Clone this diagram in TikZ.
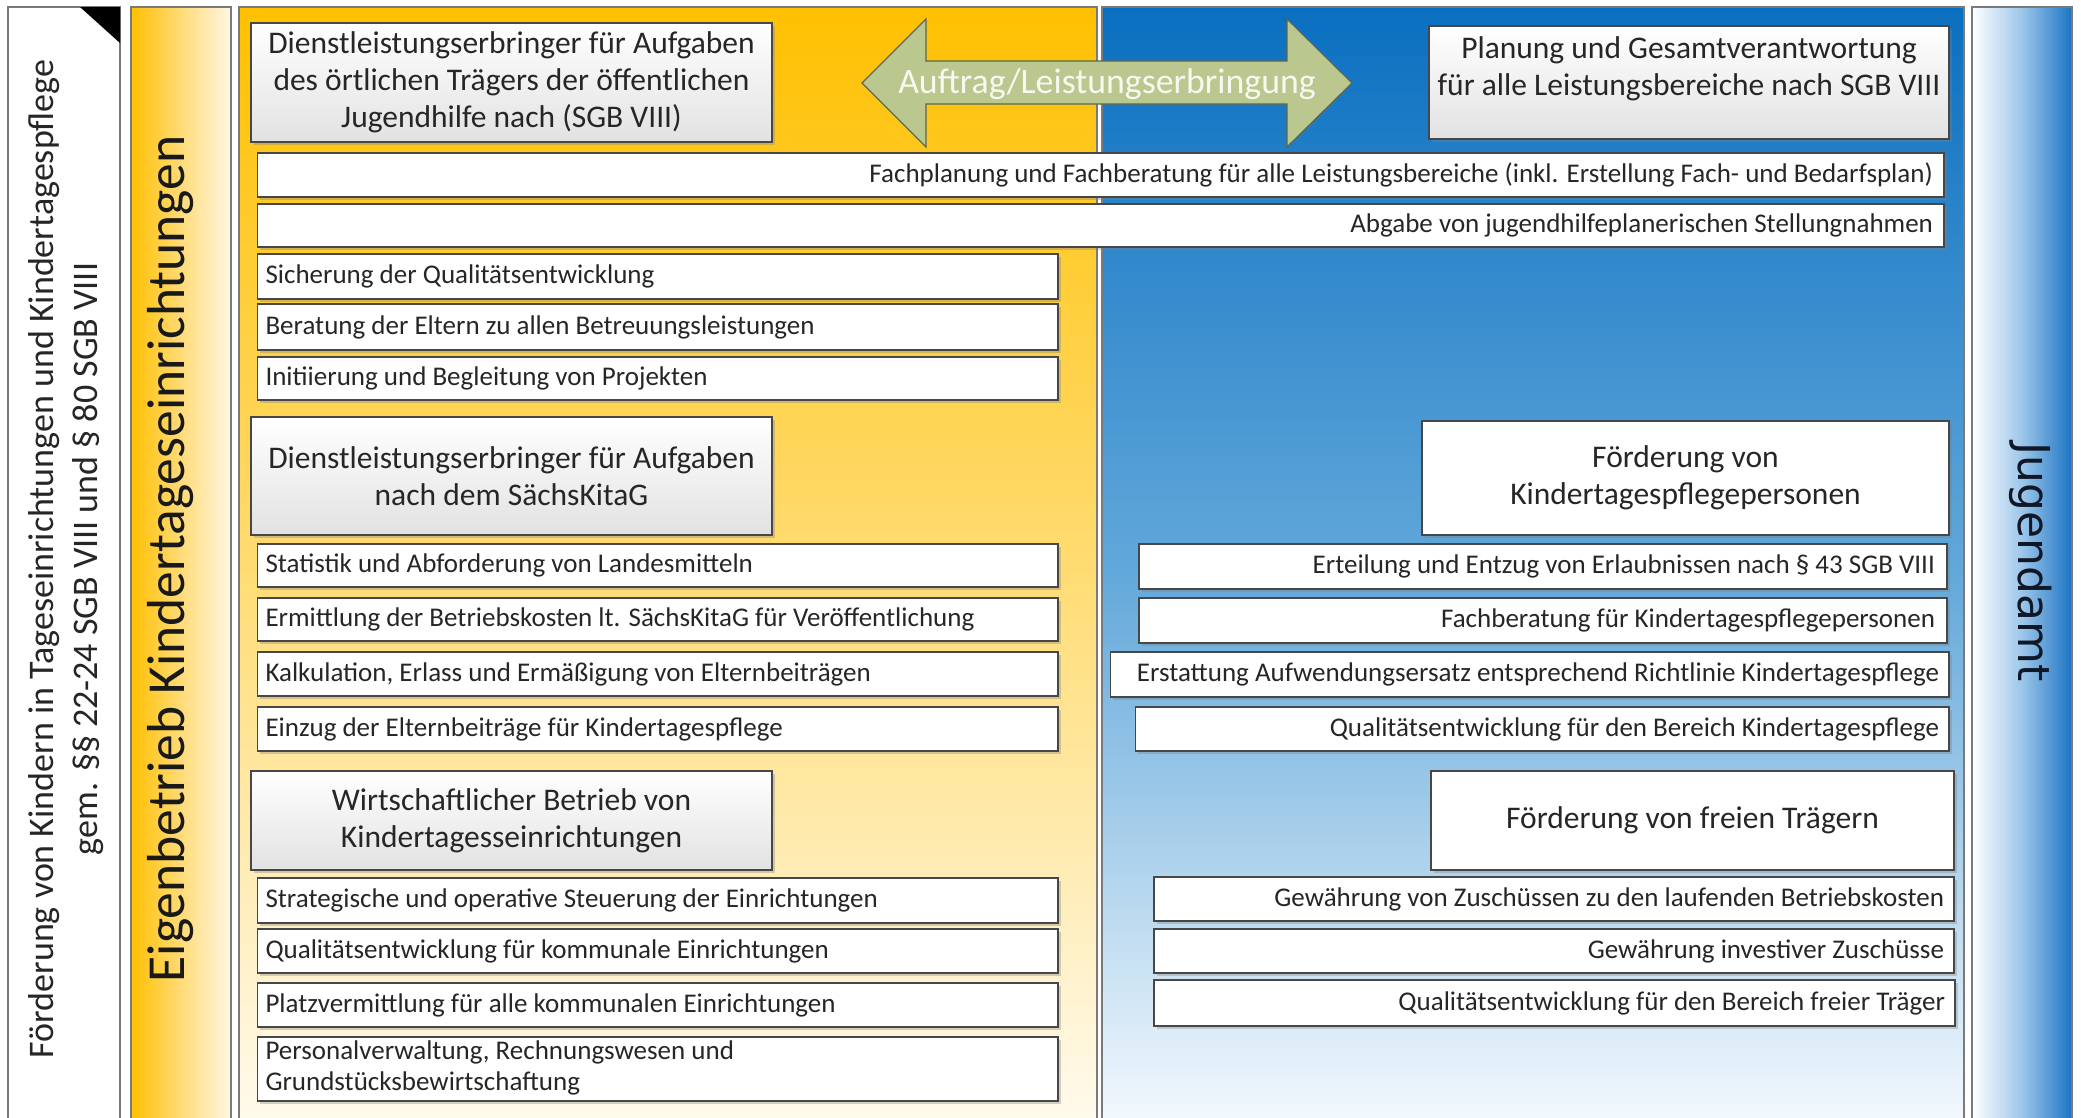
\documentclass[tikz,border=0pt]{standalone}
\usepackage{fontspec}
\setmainfont{Carlito}
\newfontfamily\jfont{DejaVu Sans}
\usetikzlibrary{shadows}
\definecolor{bordc}{HTML}{474747}
\definecolor{panelc}{HTML}{7A7A7A}
\definecolor{txtc}{HTML}{262626}
\definecolor{yelA}{HTML}{FFC000}
\definecolor{yelB}{HTML}{FFDC74}
\definecolor{yelC}{HTML}{FFFBF1}
\definecolor{ybarB}{HTML}{FFDB78}
\definecolor{ybarC}{HTML}{FFF7E4}
\definecolor{bluA}{HTML}{0A6FC0}
\definecolor{bluB}{HTML}{62A8DA}
\definecolor{bluC}{HTML}{F8FBFE}
\definecolor{barblue}{HTML}{1C74C3}
\definecolor{barmid}{HTML}{9CC6EA}
\definecolor{arrowc}{HTML}{BAC78F}
\definecolor{arrowb}{HTML}{5C6650}
\definecolor{arrowt}{HTML}{F7F8F0}
\definecolor{hdrbot}{HTML}{E2E2E2}
\definecolor{jtxt}{HTML}{101828}
\newcommand\fitem{\fontsize{27}{31}\selectfont}
\newcommand\fhead{\fontsize{31.5}{37}\selectfont}
\newcommand\fleft{\fontsize{36}{42}\selectfont}
\newcommand\feigen{\fontsize{53.5}{60}\selectfont}
\newcommand\farrow{\fontsize{35.8}{42}\selectfont}
\newcommand\fjug{\fontsize{44}{52}\selectfont}
\tikzset{
  boxshadow/.style={drop shadow={shadow xshift=2.5pt, shadow yshift=-2.5pt, opacity=0.35}},
  itembox/.style={draw=bordc, line width=1.6pt, fill=white, text=txtc, font=\fitem, inner ysep=0pt, boxshadow},
  headbox/.style={draw=bordc, line width=1.6pt, top color=white, bottom color=hdrbot, text=txtc, font=\fhead, align=center, inner sep=0pt, boxshadow},
  whitehead/.style={draw=bordc, line width=1.6pt, fill=white, text=txtc, font=\fhead, align=center, inner sep=0pt, boxshadow},
  panel/.style={draw=panelc, line width=1.5pt},
  sidetext/.style={anchor=base, text=txtc}
}
\newcommand\bx[9]{%
  \pgfmathsetmacro\bxw{#4-#2}%
  \pgfmathsetmacro\bxh{#5-#3}%
  \pgfmathsetmacro\bxtw{#4-#2-2*#7}%
  \node[#6, inner xsep=#7pt, minimum width=\bxw pt, minimum height=\bxh pt] (#1) at ({(#2+#4)/2},{(#3+#5)/2}) {\makebox[\bxtw pt][#8]{#9}};}
\newcommand\hb[6]{%
  \pgfmathsetmacro\bxw{#4-#2}%
  \pgfmathsetmacro\bxh{#5-#3}%
  \node[#6, minimum width=\bxw pt, minimum height=\bxh pt] (#1) at ({(#2+#4)/2},{(#3+#5)/2})}
\begin{document}
\begin{tikzpicture}[x=1pt,y=-1pt]
\useasboundingbox (0,0) rectangle (2081,1117);
\clip (0,0) rectangle (2081,1117);
\fill[white] (0,0) rectangle (2081,1117);
% left white column
\draw[panel, fill=white] (8,7) rectangle (120,1140);
\fill[black] (80,7) -- (120,7) -- (120,43) -- cycle;
\node[sidetext, rotate=90, font=\fleft] (lt1) at (53,559) {Förderung von Kindern in Tageseinrichtungen und Kindertagespflege};
\node[sidetext, rotate=90, font=\fleft] (lt2) at (97,559) {gem. §§ 22-24 SGB VIII und § 80 SGB VIII};
% yellow side bar
\draw[panel, left color=yelA, right color=ybarC, middle color=ybarB] (131,7) rectangle (231,1140);
\node[sidetext, rotate=90, font=\feigen, text=black!90] (eigen) at (184,559) {Eigenbetrieb Kindertageseinrichtungen};
% main panels
\draw[panel, top color=yelA, bottom color=yelC, middle color=yelB] (239,7) rectangle (1097,1140);
\draw[panel, top color=bluA, bottom color=bluC, middle color=bluB] (1102,7) rectangle (1964,1140);
% right side bar
\draw[panel, left color=white, right color=barblue, middle color=barmid] (1972,7) rectangle (2072,1140);
\node[anchor=base, rotate=-90, font=\fjug\jfont, text=jtxt] (jug) at (2018,562) {Jugendamt};
% arrow
\draw[fill=arrowc, draw=arrowb, line width=1.2pt] (862,83) -- (926,19) -- (926,61) -- (1287,61) -- (1287,19) -- (1352,83) -- (1287,147) -- (1287,104) -- (926,104) -- (926,147) -- cycle;
\node[anchor=base, font=\farrow, text=arrowt] (arrowtext) at (1107,93) {Auftrag/Leistungserbringung};
% header boxes left
\hb{h1}{251}{23}{772}{142}{headbox}{Dienstleistungserbringer für Aufgaben\\des örtlichen Trägers der öffentlichen\\Jugendhilfe nach (SGB VIII)};
\hb{h2}{251}{417}{772}{535}{headbox}{Dienstleistungserbringer für Aufgaben\\nach dem SächsKitaG};
\hb{h3}{251}{771}{772}{870}{headbox}{Wirtschaftlicher Betrieb von\\Kindertagesseinrichtungen};
% header boxes right
\hb{h4}{1429}{26}{1949}{139}{headbox}{Planung und Gesamtverantwortung\\für alle Leistungsbereiche nach SGB VIII\\[-4pt]\mbox{}};
\hb{h5}{1422}{421}{1949}{535}{whitehead}{Förderung von\\Kindertagespflegepersonen};
\hb{h6}{1431}{771}{1954}{870}{whitehead}{Förderung von freien Trägern};
% wide boxes
\bx{w1}{257.5}{153}{1944}{197}{itembox}{11}{r}{Fachplanung und Fachberatung für alle Leistungsbereiche (inkl. Erstellung Fach- und Bedarfsplan)}
\bx{w2}{257.5}{204}{1944}{247}{itembox}{11}{r}{Abgabe von jugendhilfeplanerischen Stellungnahmen}
% left items
\bx{l1}{257.5}{254}{1058}{299}{itembox}{8}{l}{Sicherung der Qualitätsentwicklung}
\bx{l2}{257.5}{304}{1058}{350}{itembox}{8}{l}{Beratung der Eltern zu allen Betreuungsleistungen}
\bx{l3}{257.5}{357}{1058}{400}{itembox}{8}{l}{Initiierung und Begleitung von Projekten}
\bx{l4}{257.5}{544}{1058}{587}{itembox}{8}{l}{Statistik und Abforderung von Landesmitteln}
\bx{l5}{257.5}{598}{1058}{641}{itembox}{8}{l}{Ermittlung der Betriebskosten lt. SächsKitaG für Veröffentlichung}
\bx{l6}{257.5}{652}{1058}{696}{itembox}{8}{l}{Kalkulation, Erlass und Ermäßigung von Elternbeiträgen}
\bx{l7}{257.5}{707}{1058}{751}{itembox}{8}{l}{Einzug der Elternbeiträge für Kindertagespflege}
\bx{l8}{257.5}{878}{1058}{923}{itembox}{8}{l}{Strategische und operative Steuerung der Einrichtungen}
\bx{l9}{257.5}{929}{1058}{973}{itembox}{8}{l}{Qualitätsentwicklung für kommunale Einrichtungen}
\bx{l10}{257.5}{983}{1058}{1027}{itembox}{8}{l}{Platzvermittlung für alle kommunalen Einrichtungen}
\bx{l11}{257.5}{1037}{1058}{1101}{itembox}{8}{l}{\begin{tabular}{@{}l@{}}Personalverwaltung, Rechnungswesen und\\Grundstücksbewirtschaftung\end{tabular}}
% right items
\bx{r1}{1139}{544}{1947}{589}{itembox}{12}{r}{Erteilung und Entzug von Erlaubnissen nach § 43 SGB VIII}
\bx{r2}{1139}{598}{1947}{643}{itembox}{12}{r}{Fachberatung für Kindertagespflegepersonen}
\bx{r3}{1110.5}{652}{1949}{697}{itembox}{10}{r}{Erstattung Aufwendungsersatz entsprechend Richtlinie Kindertagespflege}
\bx{r4}{1135.5}{707}{1949}{751}{itembox}{10}{r}{Qualitätsentwicklung für den Bereich Kindertagespflege}
\bx{r5}{1154}{877}{1954}{921}{itembox}{10}{r}{Gewährung von Zuschüssen zu den laufenden Betriebskosten}
\bx{r6}{1154}{929}{1954}{973}{itembox}{10}{r}{Gewährung investiver Zuschüsse}
\bx{r7}{1154}{980}{1955}{1026}{itembox}{10}{r}{Qualitätsentwicklung für den Bereich freier Träger}
\end{tikzpicture}
\end{document}
